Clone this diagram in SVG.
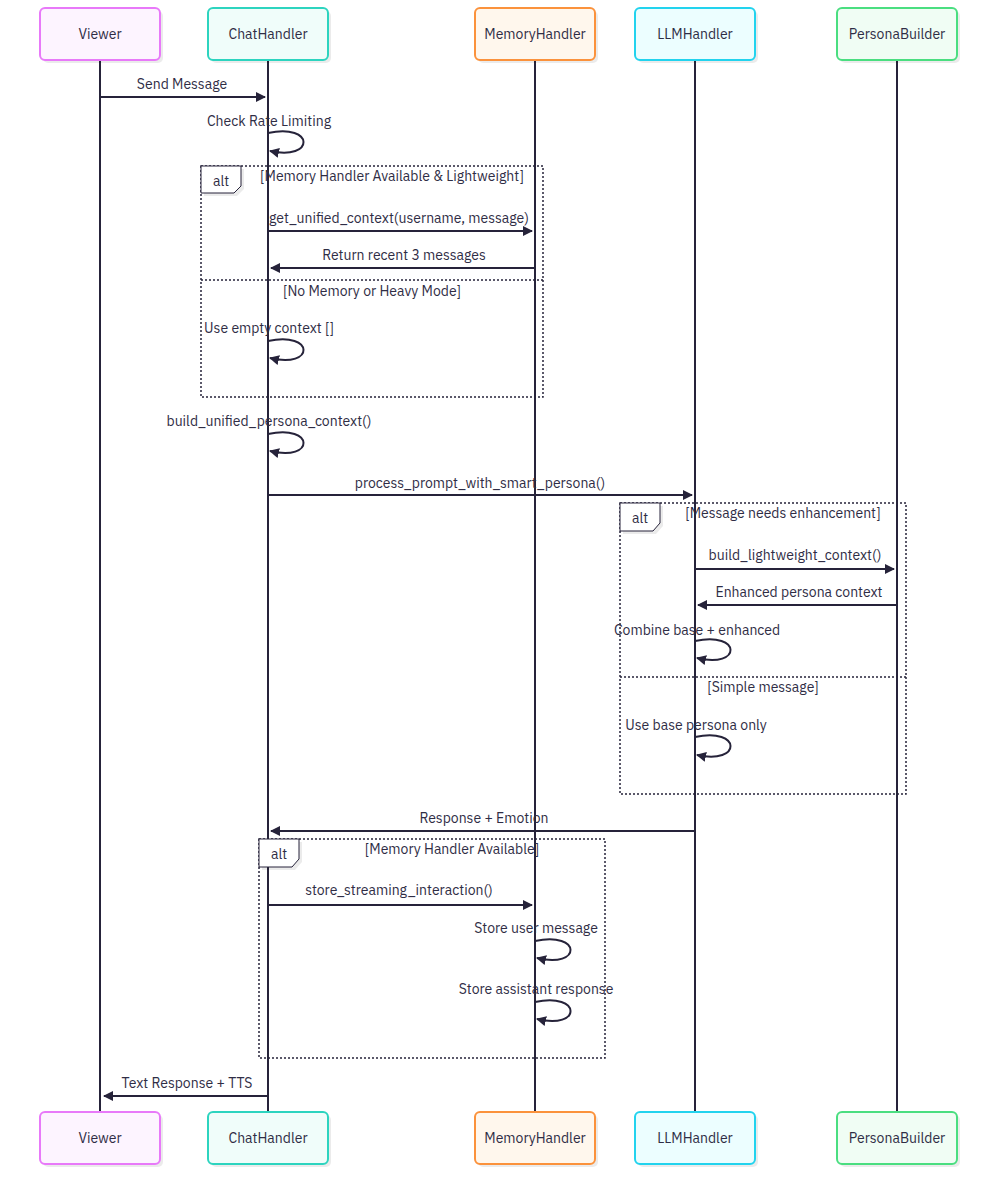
<svg xmlns="http://www.w3.org/2000/svg" width="1000" height="1200" viewBox="0 0 1000 1200">
<defs>
<marker id="arr" viewBox="0 0 10 10" refX="9" refY="5" markerWidth="10" markerHeight="10" markerUnits="userSpaceOnUse" orient="auto">
<path d="M0,0 L10,5 L0,10 z" fill="#26233a"/>
</marker>
</defs>
<style>
text{font-family:"IBM Plex Sans","Inter","Noto Sans",sans-serif;font-size:14px;fill:#2f2d45;text-anchor:middle}
.shadow{fill:#000;opacity:0.08}
.actor{stroke-width:2}
.life{stroke:#26233a;stroke-width:2}
.msg{stroke:#26233a;stroke-width:2;fill:none;marker-end:url(#arr)}
.frame{fill:none;stroke:#26233a;stroke-width:1.5;stroke-dasharray:2,2}
.altlbl{fill:#fff;stroke:#26233a;stroke-width:1}
</style>
<rect width="1000" height="1200" fill="#fff"/>

<g id="lifelines">
<line class="life" x1="100" y1="60" x2="100" y2="1112"/>
<line class="life" x1="268" y1="60" x2="268" y2="1112"/>
<line class="life" x1="535" y1="60" x2="535" y2="1112"/>
<line class="life" x1="695" y1="60" x2="695" y2="1112"/>
<line class="life" x1="897" y1="60" x2="897" y2="1112"/>
</g>

<g id="frames">
<g id="alt1">
<rect class="frame" x="201" y="166" width="342" height="231"/>
<line class="frame" x1="201" y1="280" x2="543" y2="280"/>
<path class="shadow" d="M204,169 H244 V189 L237,196 H204 z"/>
<path class="altlbl" d="M201,166 H241 V186 L234,193 H201 z"/>
<text x="221" y="186">alt</text>
<text x="392" y="181">[Memory Handler Available &amp; Lightweight]</text>
<text x="372" y="296">[No Memory or Heavy Mode]</text>
</g>
<g id="alt2">
<rect class="frame" x="620" y="503" width="286" height="291"/>
<line class="frame" x1="620" y1="677" x2="906" y2="677"/>
<path class="shadow" d="M623,506 H663 V526 L656,534 H623 z"/>
<path class="altlbl" d="M620,503 H660 V523 L653,531 H620 z"/>
<text x="640" y="523">alt</text>
<text x="783" y="518">[Message needs enhancement]</text>
<text x="763" y="692">[Simple message]</text>
</g>
<g id="alt3">
<rect class="frame" x="259" y="839" width="346" height="219"/>
<path class="shadow" d="M262,842 H302 V862 L295,870 H262 z"/>
<path class="altlbl" d="M259,839 H299 V859 L292,867 H259 z"/>
<text x="279" y="859">alt</text>
<text x="452" y="854">[Memory Handler Available]</text>
</g>
</g>

<g id="connectors">
<line class="msg" x1="100" y1="97" x2="265" y2="97"/>
<text x="182" y="89">Send Message</text>
<path class="msg" d="M268,133 C315,123 315,161 270,151"/>
<text x="269" y="126">Check Rate Limiting</text>
<line class="msg" x1="268" y1="231" x2="532" y2="231"/>
<text x="399" y="223">get_unified_context(username, message)</text>
<line class="msg" x1="535" y1="268" x2="271" y2="268"/>
<text x="404" y="260">Return recent 3 messages</text>
<path class="msg" d="M268,341 C315,331 315,369 270,358"/>
<text x="269" y="333">Use empty context []</text>
<path class="msg" d="M268,434 C315,424 315,462 270,451"/>
<text x="269" y="426">build_unified_persona_context()</text>
<line class="msg" x1="268" y1="495" x2="692" y2="495"/>
<text x="480" y="488">process_prompt_with_smart_persona()</text>
<line class="msg" x1="695" y1="569" x2="894" y2="569"/>
<text x="795" y="560">build_lightweight_context()</text>
<line class="msg" x1="897" y1="605" x2="698" y2="605"/>
<text x="799" y="597">Enhanced persona context</text>
<path class="msg" d="M695,641 C742,631 742,669 697,658"/>
<text x="697" y="635">Combine base + enhanced</text>
<path class="msg" d="M695,737 C742,727 742,765 697,755"/>
<text x="696" y="730">Use base persona only</text>
<line class="msg" x1="695" y1="831" x2="271" y2="831"/>
<text x="484" y="823">Response + Emotion</text>
<line class="msg" x1="268" y1="905" x2="532" y2="905"/>
<text x="399" y="895">store_streaming_interaction()</text>
<path class="msg" d="M535,941 C582,931 582,969 537,958"/>
<text x="536" y="933">Store user message</text>
<path class="msg" d="M535,1002 C582,992 582,1030 537,1019"/>
<text x="536" y="994">Store assistant response</text>
<line class="msg" x1="268" y1="1096" x2="104" y2="1096"/>
<text x="187" y="1088">Text Response + TTS</text>
</g>

<g id="viewer">
<rect class="shadow" x="43" y="11" width="120" height="52" rx="5"/>
<rect class="actor" x="40" y="8" width="120" height="52" rx="5" fill="#fdf4ff" stroke="#e879f9"/>
<text x="100" y="39">Viewer</text>
</g>
<g id="chathandler">
<rect class="shadow" x="211" y="11" width="120" height="52" rx="5"/>
<rect class="actor" x="208" y="8" width="120" height="52" rx="5" fill="#f0fdfa" stroke="#2dd4bf"/>
<text x="268" y="39">ChatHandler</text>
</g>
<g id="memoryhandler">
<rect class="shadow" x="478" y="11" width="120" height="52" rx="5"/>
<rect class="actor" x="475" y="8" width="120" height="52" rx="5" fill="#fff7ed" stroke="#fb923c"/>
<text x="535" y="39">MemoryHandler</text>
</g>
<g id="llmhandler">
<rect class="shadow" x="638" y="11" width="120" height="52" rx="5"/>
<rect class="actor" x="635" y="8" width="120" height="52" rx="5" fill="#ecfeff" stroke="#22d3ee"/>
<text x="695" y="39">LLMHandler</text>
</g>
<g id="personabuilder">
<rect class="shadow" x="840" y="11" width="120" height="52" rx="5"/>
<rect class="actor" x="837" y="8" width="120" height="52" rx="5" fill="#f0fdf4" stroke="#4ade80"/>
<text x="897" y="39">PersonaBuilder</text>
</g>

<g id="viewer-bottom">
<rect class="shadow" x="43" y="1115" width="120" height="52" rx="5"/>
<rect class="actor" x="40" y="1112" width="120" height="52" rx="5" fill="#fdf4ff" stroke="#e879f9"/>
<text x="100" y="1143">Viewer</text>
</g>
<g id="chathandler-bottom">
<rect class="shadow" x="211" y="1115" width="120" height="52" rx="5"/>
<rect class="actor" x="208" y="1112" width="120" height="52" rx="5" fill="#f0fdfa" stroke="#2dd4bf"/>
<text x="268" y="1143">ChatHandler</text>
</g>
<g id="memoryhandler-bottom">
<rect class="shadow" x="478" y="1115" width="120" height="52" rx="5"/>
<rect class="actor" x="475" y="1112" width="120" height="52" rx="5" fill="#fff7ed" stroke="#fb923c"/>
<text x="535" y="1143">MemoryHandler</text>
</g>
<g id="llmhandler-bottom">
<rect class="shadow" x="638" y="1115" width="120" height="52" rx="5"/>
<rect class="actor" x="635" y="1112" width="120" height="52" rx="5" fill="#ecfeff" stroke="#22d3ee"/>
<text x="695" y="1143">LLMHandler</text>
</g>
<g id="personabuilder-bottom">
<rect class="shadow" x="840" y="1115" width="120" height="52" rx="5"/>
<rect class="actor" x="837" y="1112" width="120" height="52" rx="5" fill="#f0fdf4" stroke="#4ade80"/>
<text x="897" y="1143">PersonaBuilder</text>
</g>
</svg>
